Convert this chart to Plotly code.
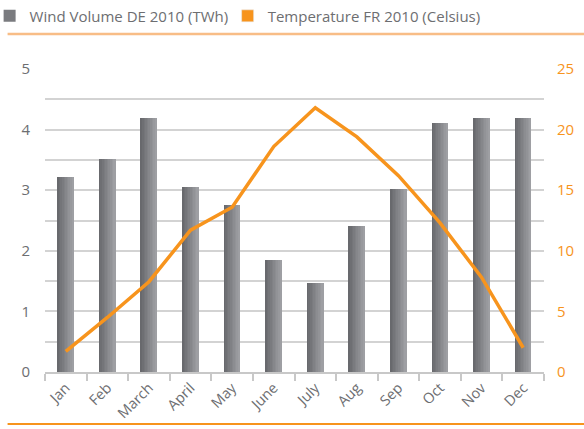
import plotly.graph_objects as go

months = ["Jan", "Feb", "March", "April", "May", "June", "July", "Aug", "Sep", "Oct", "Nov", "Dec"]
wind_twh = [3.22, 3.51, 4.19, 3.05, 2.75, 1.85, 1.47, 2.41, 3.02, 4.11, 4.19, 4.19]
temp_celsius = [1.7, 4.5, 7.45, 11.7, 13.6, 18.6, 21.8, 19.4, 16.2, 12.3, 7.8, 2.0]
left_ticks = [0, 0.5, 1, 1.5, 2, 2.5, 3, 3.5, 4, 4.5, 5]
left_labels = ["0", "", "1", "", "2", "", "3", "", "4", "", "5"]
right_ticks = [0, 5, 10, 15, 20, 25]
right_labels = ["0", "5", "10", "15", "20", "25"]

FONT = "Open Sans"
GRAY_TXT = "#6d6e71"
ORANGE = "#f7941d"

fig = go.Figure()

n_slices = 10
bar_w = 0.385
c0 = (104, 105, 109)
c1 = (158, 159, 163)
for i in range(n_slices):
    t = i / (n_slices - 1)
    col = "rgb(%d,%d,%d)" % tuple(round(a + (b - a) * t) for a, b in zip(c0, c1))
    sw = bar_w / n_slices
    fig.add_trace(go.Bar(
        x=months, y=wind_twh,
        width=sw * 1.15, offset=-bar_w / 2 + i * sw,
        marker=dict(color=col, line=dict(width=0)),
        name="Wind Volume DE 2010 (TWh)",
        showlegend=(i == 3), legend="legend",
        yaxis="y",
    ))

# legend swatch for the temperature line (square, as in the reference)
fig.add_trace(go.Bar(
    x=months, y=[None] * len(months),
    marker=dict(color=ORANGE), name="Temperature FR 2010 (Celsius)",
    showlegend=True, legend="legend2", yaxis="y2", hoverinfo="skip",
))

fig.add_trace(go.Scatter(
    x=months, y=temp_celsius, mode="lines",
    line=dict(color=ORANGE, width=3.5),
    name="Temperature FR 2010 (Celsius)", showlegend=False,
    yaxis="y2",
))

legend_common = dict(
    orientation="h", yanchor="top", xanchor="left",
    font=dict(family=FONT, size=15, color=GRAY_TXT),
    bgcolor="rgba(0,0,0,0)",
)

fig.update_layout(
    width=584, height=429,
    margin=dict(l=45, r=40, t=69, b=57, autoexpand=False),
    paper_bgcolor="white", plot_bgcolor="white",
    barmode="overlay", bargap=0,
    font=dict(family=FONT, size=14, color=GRAY_TXT),
    showlegend=True,
    legend=dict(x=-0.111, y=1.229, **legend_common),
    legend2=dict(x=0.366, y=1.229, **legend_common),
    xaxis=dict(
        type="category", showgrid=False,
        showline=True, linecolor="#c8c8c8", linewidth=1.5,
        ticks="outside", tickson="boundaries", ticklen=7, tickcolor="#c8c8c8", tickwidth=1.5,
        tickangle=-45, tickfont=dict(family=FONT, size=14.5, color=GRAY_TXT),
    ),
    yaxis=dict(
        range=[0, 5], tickvals=left_ticks, ticktext=left_labels,
        showgrid=True, gridcolor="#d3d3d3", gridwidth=1.5,
        zeroline=False, showline=False, ticks="",
        ticklabelstandoff=14,
        tickfont=dict(family=FONT, size=15, color=GRAY_TXT),
    ),
    yaxis2=dict(
        range=[0, 25], tickvals=right_ticks, ticktext=right_labels,
        overlaying="y", side="right", showgrid=False, zeroline=False,
        showline=False, ticks="", ticklabelstandoff=12,
        tickfont=dict(family=FONT, size=15, color=ORANGE),
    ),
    shapes=[
        dict(type="line", xref="paper", yref="paper", x0=-0.075, x1=1.09,
             y0=(429 - 57 - 34) / 303, y1=(429 - 57 - 34) / 303,
             line=dict(color="#f8bd86", width=2.5)),
        dict(type="line", xref="paper", yref="paper", x0=-0.075, x1=1.09,
             y0=-(424 - 372) / 303, y1=-(424 - 372) / 303,
             line=dict(color=ORANGE, width=2)),
    ],
)

fig.write_html("out.html", config={"displayModeBar": False},
               post_script="document.body.style.margin='0';")
